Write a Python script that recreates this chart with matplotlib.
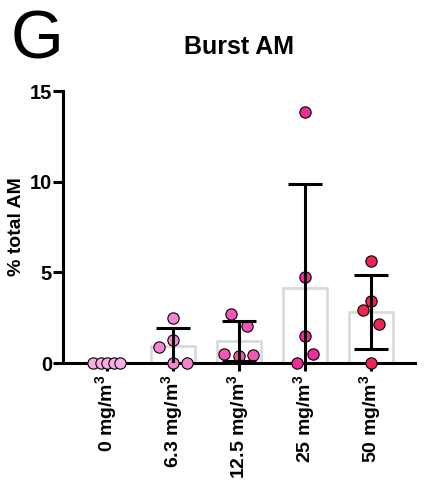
import numpy as np
import matplotlib
matplotlib.use("Agg")
import matplotlib.pyplot as plt

plt.rcParams['font.family'] = ['Liberation Sans', 'DejaVu Sans']
plt.rcParams['mathtext.fontset'] = 'custom'
plt.rcParams['mathtext.bf'] = 'Liberation Sans:bold'
plt.rcParams['mathtext.rm'] = 'Liberation Sans:bold'

# data
groups = ["0", "6.3", "12.5", "25", "50"]
vals_0 = [0, 0, 0, 0, 0]
vals_63 = [0.88, 2.48, 1.27, 0, 0]
vals_125 = [2.70, 2.04, 0.50, 0.38, 0.45]
vals_25 = [13.85, 4.74, 1.49, 0, 0.50]
vals_50 = [5.62, 3.42, 2.92, 2.15, 0]
values = [vals_0, vals_63, vals_125, vals_25, vals_50]

# horizontal scatter of the dots (category units)
jitter = [[-0.21, -0.09, 0, 0.10, 0.20],
          [-0.21, 0, 0, 0, 0.21],
          [-0.12, 0.12, -0.23, 0, 0.21],
          [0, 0, 0, -0.12, 0.12],
          [0, 0, -0.12, 0.12, 0]]
colors = ["#F9AEE3", "#F784D3", "#F255B4", "#EE2C9C", "#EE2452"]

fig = plt.figure(figsize=(4.26, 4.90), dpi=100)
ax = fig.add_axes([0.148, 0.259, 0.826, 0.555])

x = np.arange(len(groups))
means = [np.mean(v) for v in values]
sds = [np.std(v, ddof=1) for v in values]

ax.bar(x, means, width=0.67, color="white", edgecolor="#D9D9D9", linewidth=1.9, zorder=1)

for i, v in enumerate(values):
    ax.scatter(x[i] + np.array(jitter[i]), v, s=66, color=colors[i],
               edgecolor="black", linewidth=0.8, zorder=4, clip_on=False)

for i in range(1, len(groups)):
    ax.errorbar(x[i], means[i], yerr=sds[i], fmt="none", ecolor="black",
                elinewidth=2.2, capsize=12, capthick=2.2, zorder=5)

ax.set_xlim(-0.667, 4.667)
ax.set_ylim(0, 15)
ax.set_yticks([0, 5, 10, 15])
ax.set_xticks(x)
ax.set_xticklabels([g + r" mg/m$^{\mathbf{3}}$" for g in groups], rotation=90,
                   fontsize=14, fontweight="bold")
for lab in ax.get_yticklabels():
    lab.set_fontweight("bold")
ax.tick_params(axis="y", labelsize=14.5, width=2.2, length=7, pad=1)
ax.tick_params(axis="x", width=2.2, length=6, pad=2)

for s in ["top", "right"]:
    ax.spines[s].set_visible(False)
for s in ["left", "bottom"]:
    ax.spines[s].set_linewidth(2.2)
ax.spines["bottom"].set_zorder(3)

ax.set_ylabel("% total AM", fontsize=14, fontweight="bold", labelpad=3)

fig.text(0.562, 0.905, "Burst AM", fontsize=18, fontweight="bold", ha="center", va="center")
fig.text(0.025, 0.917, "G", fontsize=49, ha="left", va="center")

fig.savefig("out.png", dpi=100)
